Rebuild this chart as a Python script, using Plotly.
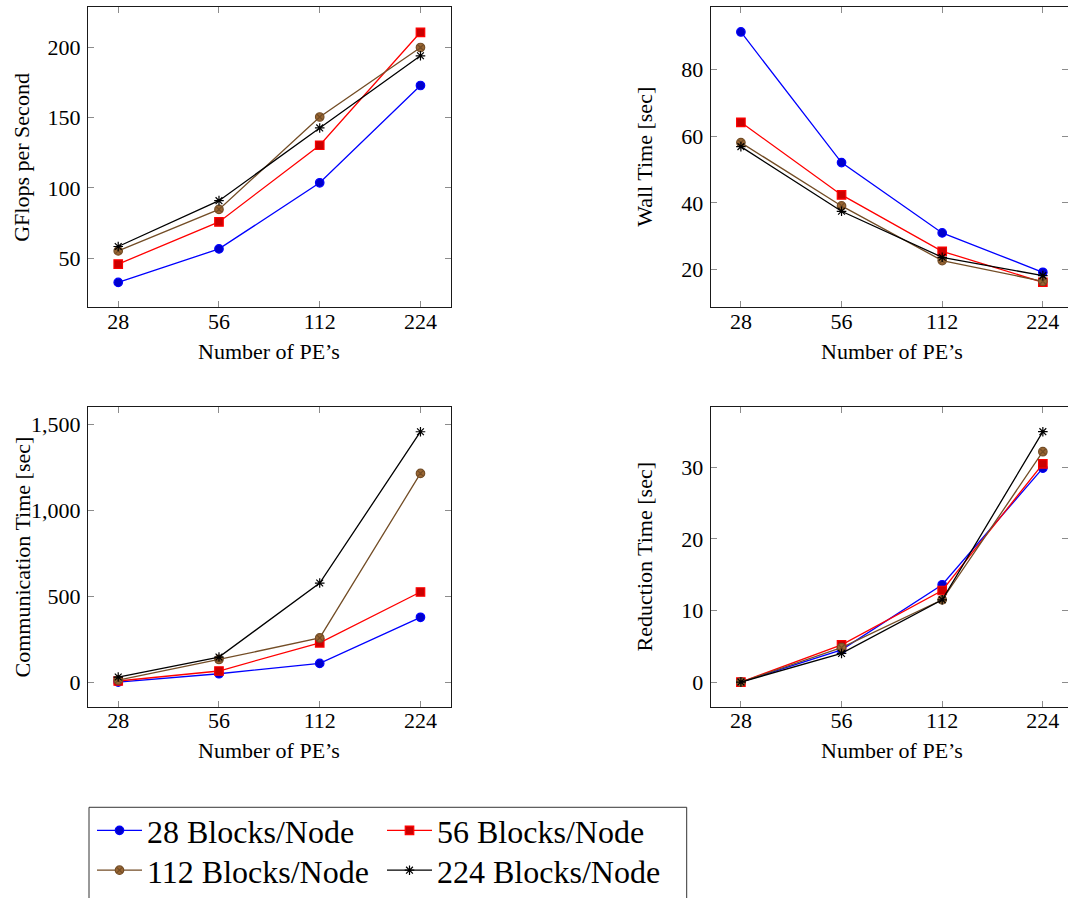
import math
import plotly.graph_objects as go

# Number of processing elements (x axis of every panel)
pes = [28, 56, 112, 224]

series_names = ["28 Blocks/Node", "56 Blocks/Node", "112 Blocks/Node", "224 Blocks/Node"]

# GFlops per second
gflops_28 = [32.8, 56.6, 103.6, 172.8]
gflops_56 = [45.8, 75.8, 130.3, 210.6]
gflops_112 = [55.2, 84.7, 150.4, 199.8]
gflops_224 = [58.3, 90.9, 142.6, 193.9]

# Wall time [sec]
wall_28 = [91.3, 52.1, 31.0, 19.2]
wall_56 = [64.2, 42.4, 25.5, 16.2]
wall_112 = [58.1, 39.1, 22.7, 16.5]
wall_224 = [56.9, 37.5, 23.7, 18.2]

# Communication time [sec]
comm_28 = [4, 52, 112, 380]
comm_56 = [10, 68, 232, 527]
comm_112 = [15, 135, 260, 1216]
comm_224 = [33, 149, 579, 1458]

# Reduction time [sec]
red_28 = [0, 4.5, 13.6, 29.9]
red_56 = [0, 5.2, 12.8, 30.5]
red_112 = [0, 4.8, 11.5, 32.2]
red_224 = [0, 4.0, 11.5, 35.0]

x_ticks = [28, 56, 112, 224]
y_ticks = {
    1: [50, 100, 150, 200],
    2: [20, 40, 60, 80],
    3: [0, 500, 1000, 1500],
    4: [0, 10, 20, 30],
}

FONT = "Liberation Serif"
W, H = 1068, 898

# pgfplots "color" cycle list styles
styles = [
    dict(line="#0000FF", fill="#0000CC", symbol="circle", size=8.5),
    dict(line="#FF0000", fill="#CC0000", symbol="square", size=8.5),
    dict(line="#734D26", fill="#996633", symbol="circle-x", size=8.5),
    dict(line="#000000", fill="#000000", symbol="asterisk-open", size=8),
]

panels = [
    (1, [gflops_28, gflops_56, gflops_112, gflops_224]),
    (2, [wall_28, wall_56, wall_112, wall_224]),
    (3, [comm_28, comm_56, comm_112, comm_224]),
    (4, [red_28, red_56, red_112, red_224]),
]

fig = go.Figure()

for p, data in panels:
    xa = "x" if p == 1 else f"x{p}"
    ya = "y" if p == 1 else f"y{p}"
    for i, (vals, st) in enumerate(zip(data, styles)):
        fig.add_trace(go.Scatter(
            x=pes, y=vals, xaxis=xa, yaxis=ya,
            mode="lines+markers",
            name=series_names[i],
            legendgroup=series_names[i],
            legend="legend" if i < 2 else "legend2",
            showlegend=(p == 1),
            line=dict(color=st["line"], width=1.3),
            marker=dict(symbol=st["symbol"], size=st["size"], color=st["fill"],
                        line=dict(color=st["line"], width=1.2)),
            cliponaxis=False,
        ))

# panel geometry in pixels: (left, right, top, bottom)
geom = {
    1: (88.0, 450.7, 7.3, 308.3),
    2: (710.7, 1068.0, 7.3, 308.3),
    3: (88.0, 450.7, 408.3, 709.3),
    4: (710.7, 1068.0, 408.3, 709.3),
}
y_ranges = {1: [15.1, 228.4], 2: [8.7, 98.7], 3: [-140.7, 1602], 4: [-3.48, 38.46]}

lg0 = math.log10(28)
step = math.log10(2)
x_ranges = {1: [lg0 - 0.3 * step, lg0 + 3.3 * step],
            2: [lg0 - 0.3 * step, lg0 + 3.25 * step],
            3: [lg0 - 0.3 * step, lg0 + 3.3 * step],
            4: [lg0 - 0.3 * step, lg0 + 3.25 * step]}

axis_common = dict(
    showline=True, linecolor="#1a1a1a", linewidth=1, mirror="ticks",
    ticks="inside", ticklen=6, tickwidth=1, tickcolor="#8c8c8c",
    showgrid=False, zeroline=False,
    tickfont=dict(family=FONT, size=22, color="black"),
)

layout = dict(
    width=W, height=H, autosize=False,
    margin=dict(l=0, r=0, t=0, b=0),
    paper_bgcolor="white", plot_bgcolor="white",
)

for p in range(1, 5):
    l, r, t, b = geom[p]
    xkey = "xaxis" if p == 1 else f"xaxis{p}"
    ykey = "yaxis" if p == 1 else f"yaxis{p}"
    layout[xkey] = dict(
        axis_common, type="log", domain=[l / W, r / W], range=x_ranges[p],
        tickvals=x_ticks, ticktext=[str(v) for v in x_ticks],
        anchor="y" if p == 1 else f"y{p}", ticklabelstandoff=-6,
    )
    layout[ykey] = dict(
        axis_common, domain=[1 - b / H, 1 - t / H], range=y_ranges[p],
        tickvals=y_ticks[p], tickformat=",d",
        anchor="x" if p == 1 else f"x{p}", ticklabelstandoff=2,
    )

fig.update_layout(**layout)

# axis titles
y_titles = {1: "GFlops per Second", 2: "Wall Time [sec]",
            3: "Communication Time [sec]", 4: "Reduction Time [sec]"}
y_title_x = {1: 21.5, 2: 644.5, 3: 22.5, 4: 644.5}
for p in range(1, 5):
    l, r, t, b = geom[p]
    fig.add_annotation(
        xref="paper", yref="paper", x=y_title_x[p] / W, y=1 - (t + b) / 2 / H,
        text=y_titles[p], textangle=-90, showarrow=False,
        xanchor="center", yanchor="middle",
        font=dict(family=FONT, size=22, color="black"),
    )
    xc = (l + (l + 363)) / 2 if p in (2, 4) else (l + r) / 2
    fig.add_annotation(
        xref="paper", yref="paper", x=xc / W, y=1 - (b + 44) / H,
        text="Number of PE’s", showarrow=False,
        xanchor="center", yanchor="middle",
        font=dict(family=FONT, size=22, color="black"),
    )

legend_common = dict(
    orientation="h", xanchor="left", yanchor="middle",
    font=dict(family=FONT, size=32, color="black"),
    entrywidth=230, entrywidthmode="pixels", itemwidth=45,
    bgcolor="rgba(0,0,0,0)", borderwidth=0, tracegroupgap=0,
)
fig.update_layout(
    legend=dict(legend_common, x=92 / W, y=1 - 833.3 / H),
    legend2=dict(legend_common, x=92 / W, y=1 - 873.3 / H),
)

# frame around the legend
fig.add_shape(type="rect", xref="paper", yref="paper",
              x0=89 / W, x1=686.7 / W, y0=-0.1, y1=1 - 810 / H,
              line=dict(color="#333333", width=1), fillcolor="rgba(0,0,0,0)")

fig.write_html("out.html")
